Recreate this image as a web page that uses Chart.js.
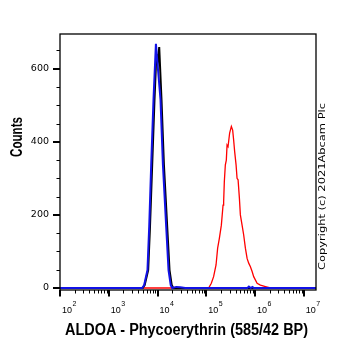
<!DOCTYPE html>
<html lang="en">
<head>
<meta charset="UTF-8">
<title>ALDOA - Phycoerythrin histogram</title>
<script src="https://cdn.jsdelivr.net/npm/chart.js"></script>
<style>
  body { margin: 0; background: #fff; }
</style>
</head>
<body>
<canvas id="histo" width="362" height="351"></canvas>
<script>
// x = fluorescence intensity, y = counts
const blueX = [100, 4842, 5321, 6223, 6745, 7413, 8265, 9268, 9748, 11510, 12900, 15070, 16810, 18660, 20040, 24200, 29240, 37070, 696600, 748000, 812000, 883000, 950000, 17780000];
const blueY = [0, 0, 8, 49, 167, 337, 515, 668, 632, 515, 337, 167, 49, 8, 0, 3, 2, 0, 0, 4, 0, 3, 0, 0];

const blackX = [100, 4959, 5451, 6433, 7007, 7777, 8668, 9484, 10090, 10830, 12070, 13530, 15810, 17630, 19560, 21000, 17780000];
const blackY = [0, 0, 8, 49, 167, 337, 515, 640, 615, 659, 515, 337, 167, 49, 8, 0, 0];

const redX = [100, 111700, 126800, 141300, 158500, 171000, 185400, 203700, 220800, 227000, 234400, 246000, 257600, 266700, 279300, 301300, 326600, 347500, 363900, 381900, 408300, 427600, 448700, 477500, 500000, 542000, 584800, 633900, 687100, 741300, 803500, 871000, 937600, 1102000, 1288000, 1633000, 2070000, 17780000];
const redY = [0, 0, 13, 31, 63, 109, 136, 172, 227, 236, 291, 337, 350, 391, 387, 424, 442, 432, 405, 373, 337, 300, 296, 246, 200, 172, 145, 109, 81, 68, 58, 45, 31, 13, 8, 4, 0, 0];

const xMajor = [1e2, 1e3, 1e4, 1e5, 1e6, 1e7];
const xExponents = ['2', '3', '4', '5', '6', '7'];
const yMajor = [0, 200, 400, 600];
const yMinor = [50, 100, 150, 250, 300, 350, 450, 500, 550, 650];

const xTitle = 'ALDOA - Phycoerythrin (585/42 BP)';
const yTitle = 'Counts';
const copyright = 'Copyright (c) 2021Abcam Plc';

const xMinor = [];
for (let n = 2; n < 7; n++) {
    for (let k = 2; k < 10; k++) xMinor.push(k * Math.pow(10, n));
}

function pts(xs, ys) {
    return xs.map((x, i) => ({ x: x, y: ys[i] }));
}

function fitText(ctx, str, x, y, w, font, rot) {
    ctx.save();
    ctx.translate(x, y);
    if (rot) ctx.rotate(rot);
    ctx.font = font;
    const m = ctx.measureText(str).width;
    ctx.scale(w / m, 1);
    ctx.textAlign = 'center';
    ctx.textBaseline = 'alphabetic';
    ctx.fillStyle = '#000';
    ctx.fillText(str, 0, 0);
    ctx.restore();
}

const frame = {
    id: 'frame',
    afterDraw(chart) {
        const ctx = chart.ctx;
        const a = chart.chartArea;
        const xs = chart.scales.x;
        const ys = chart.scales.y;
        ctx.save();
        ctx.strokeStyle = '#000';
        ctx.lineWidth = 1.3;
        ctx.strokeRect(a.left, a.top, a.right - a.left, a.bottom - a.top);

        function tick(x1, y1, x2, y2, w) {
            ctx.lineWidth = w;
            ctx.beginPath();
            ctx.moveTo(x1, y1);
            ctx.lineTo(x2, y2);
            ctx.stroke();
        }
        xMinor.forEach(v => {
            const px = Math.round(xs.getPixelForValue(v)) + 0.5;
            tick(px, a.bottom, px, a.bottom + 3.5, 1);
        });
        xMajor.forEach(v => {
            const px = Math.round(xs.getPixelForValue(v));
            tick(px, a.bottom, px, a.bottom + 6.5, 2);
        });
        yMinor.forEach(v => {
            const py = Math.round(ys.getPixelForValue(v)) + 0.5;
            tick(a.left - 3.5, py, a.left, py, 1);
        });
        yMajor.forEach(v => {
            const py = Math.round(ys.getPixelForValue(v));
            tick(a.left - 7, py, a.left, py, 2);
        });

        // x tick labels: "10" with a raised exponent
        ctx.fillStyle = '#000';
        ctx.textBaseline = 'alphabetic';
        ctx.textAlign = 'left';
        xMajor.forEach((v, i) => {
            const px = xs.getPixelForValue(v) + 2;
            ctx.font = '9px "Liberation Sans"';
            ctx.fillText('10', px, 312.5);
            const w = ctx.measureText('10').width;
            ctx.font = '7px "Liberation Sans"';
            ctx.fillText(xExponents[i], px + w + 0.5, 306);
        });
        ctx.restore();

        fitText(ctx, xTitle, 186.5, 334.5, 243, 'bold 16px "Liberation Sans"', 0);
        fitText(ctx, yTitle, 21.5, 137, 40, 'bold 16px "Liberation Sans"', -Math.PI / 2);
        fitText(ctx, copyright, 325, 186.5, 167, '9px "DejaVu Sans"', -Math.PI / 2);
    }
};

new Chart(document.getElementById('histo'), {
    type: 'scatter',
    data: {
        datasets: [
            { data: pts(blueX, blueY), borderColor: '#1212e6', borderWidth: 2 },
            { data: pts(blackX, blackY), borderColor: '#000000', borderWidth: 2 },
            { data: pts(redX, redY), borderColor: '#ff0000', borderWidth: 1.3 }
        ]
    },
    options: {
        responsive: false,
        animation: false,
        showLine: true,
        elements: {
            point: { radius: 0, hoverRadius: 0 },
            line: { tension: 0, fill: false }
        },
        layout: { padding: { left: 0, right: 46, top: 34, bottom: 0 } },
        plugins: {
            legend: { display: false },
            tooltip: { enabled: false }
        },
        scales: {
            x: {
                type: 'logarithmic',
                min: 100,
                max: 17782794,
                grid: { display: false, drawTicks: false },
                border: { display: false },
                afterBuildTicks: s => { s.ticks = xMajor.map(v => ({ value: v })); },
                afterFit: s => { s.height = 61; },
                ticks: { display: false }
            },
            y: {
                min: -5.5,
                max: 695,
                grid: { display: false, drawTicks: false },
                border: { display: false },
                afterBuildTicks: s => { s.ticks = yMajor.map(v => ({ value: v })); },
                afterFit: s => { s.width = 60; },
                ticks: {
                    padding: 11,
                    color: '#000',
                    font: { family: '"DejaVu Sans"', size: 9.5 }
                }
            }
        }
    },
    plugins: [frame]
});
</script>
</body>
</html>
